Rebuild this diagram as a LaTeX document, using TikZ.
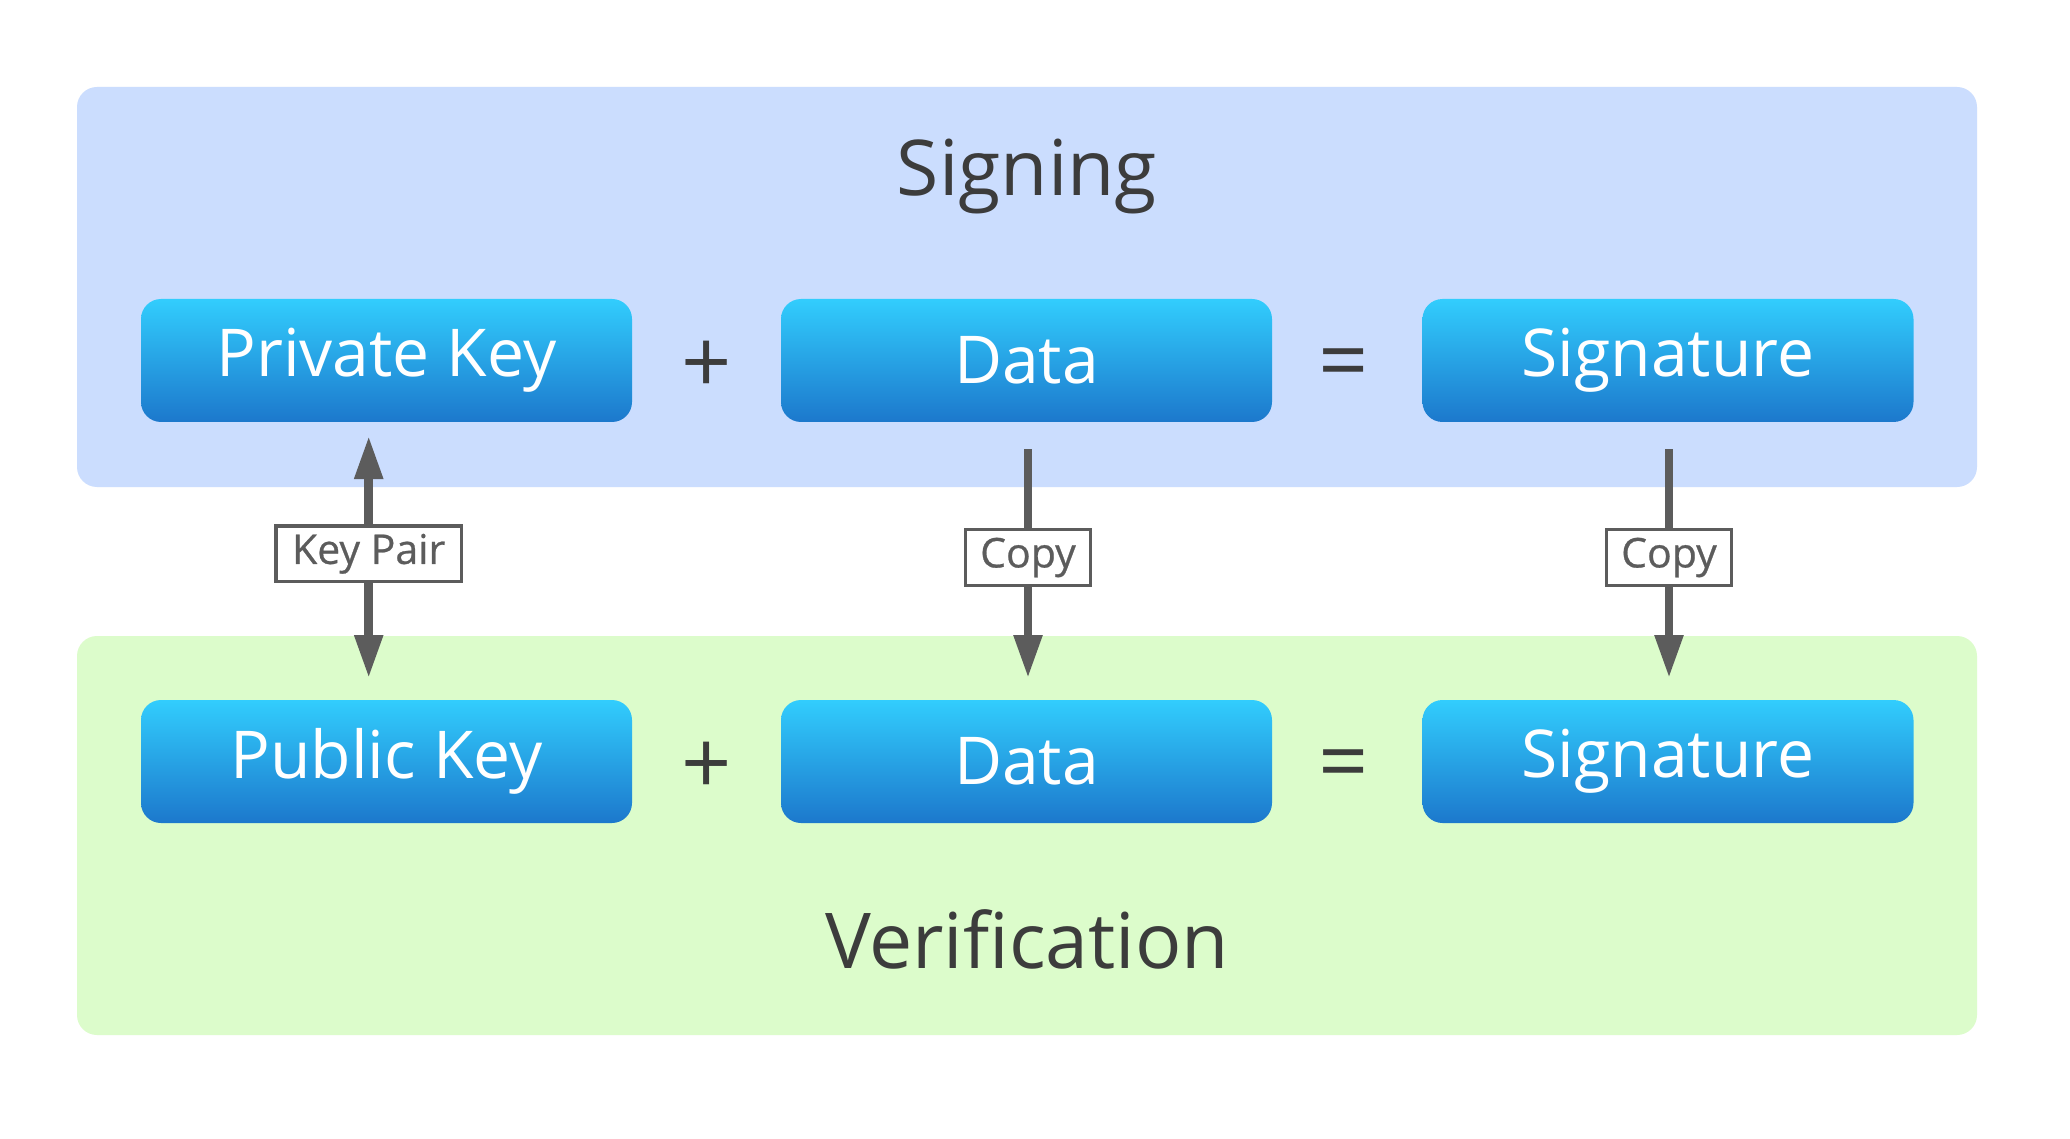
\documentclass[tikz,border=0pt]{standalone}
\usepackage{fontspec}
\setmainfont{Open Sans}
\usetikzlibrary{arrows.meta}
\definecolor{sigbg}{HTML}{CBDDFE}
\definecolor{verbg}{HTML}{DCFCCB}
\definecolor{boxtop}{HTML}{32CDFD}
\definecolor{boxmid}{HTML}{2AB0EC}
\definecolor{boxbot}{HTML}{1C78CC}
\definecolor{ink}{HTML}{3C3C3C}
\definecolor{arrowgrey}{HTML}{5C5C5C}
\begin{document}
\begin{tikzpicture}[x=1pt,y=-1pt,
  panel/.style={rounded corners=20pt},
  keybox/.style={rectangle, rounded corners=20pt, minimum width=491pt, minimum height=123pt,
    inner sep=0pt, top color=boxtop, middle color=boxmid, bottom color=boxbot,
    text=white, font=\fontsize{66}{70}\selectfont},
  title/.style={text=ink, inner sep=0pt, anchor=base, font=\fontsize{77}{80}\selectfont},
  op/.style={text=ink, inner sep=0pt, font=\fontsize{88}{90}\selectfont},
  lab/.style={rectangle, draw=arrowgrey, line width=3.3pt, fill=white, text=arrowgrey,
    inner sep=0pt, minimum height=55.7pt, font=\addfontfeatures{FakeBold=0.6}\fontsize{41}{44}\selectfont},
  link/.style={draw=arrowgrey, line width=8.5pt},
  conn/.style={link, -{Triangle[length=43pt,width=27pt]}}
]
\useasboundingbox (0,0) rectangle (2070,1139);
\fill[white] (0,0) rectangle (2070,1139);
% panels
\fill[sigbg, panel] (77,87) rectangle (1977,487);
\fill[verbg, panel] (77,636) rectangle (1977,1035);
% titles
\node[title] (signing) at (1027,196) {Signing};
\node[title] (verif) at (1027,968) {Verification};
% top row
\node[keybox] (priv) at (386.5,360.5) {Private Key};
\node[keybox] (data1) at (1026.5,360.5) {Data};
\node[keybox] (sig1) at (1668,360.5) {Signature};
\node[op] (plus1) at (707,367) {+};
\node[op] (eq1) at (1344,370) {=};
% bottom row
\node[keybox] (pub) at (386.5,761.5) {Public Key};
\node[keybox] (data2) at (1026.5,761.5) {Data};
\node[keybox] (sig2) at (1668,761.5) {Signature};
\node[op] (plus2) at (707,768) {+};
\node[op] (eq2) at (1344,771) {=};
% labels
\node[lab, minimum width=185.7pt] (kp) at (368.7,553.8) {Key Pair};
\node[lab, minimum width=124.7pt] (cp1) at (1028,557.5) {Copy};
\node[lab, minimum width=124.7pt] (cp2) at (1669,557.5) {Copy};
% connector ends
\coordinate (kpup) at (368.7,436);
\coordinate (kpdown) at (368.7,678);
\coordinate (c1s) at (1028,449);
\coordinate (c1e) at (1028,678);
\coordinate (c2s) at (1669,449);
\coordinate (c2e) at (1669,678);
% connectors
\draw[conn] (kp.north) -- (kpup);
\draw[conn] (kp.south) -- (kpdown);
\draw[link] (c1s) -- (cp1.north);
\draw[conn] (cp1.south) -- (c1e);
\draw[link] (c2s) -- (cp2.north);
\draw[conn] (cp2.south) -- (c2e);
\end{tikzpicture}
\end{document}
